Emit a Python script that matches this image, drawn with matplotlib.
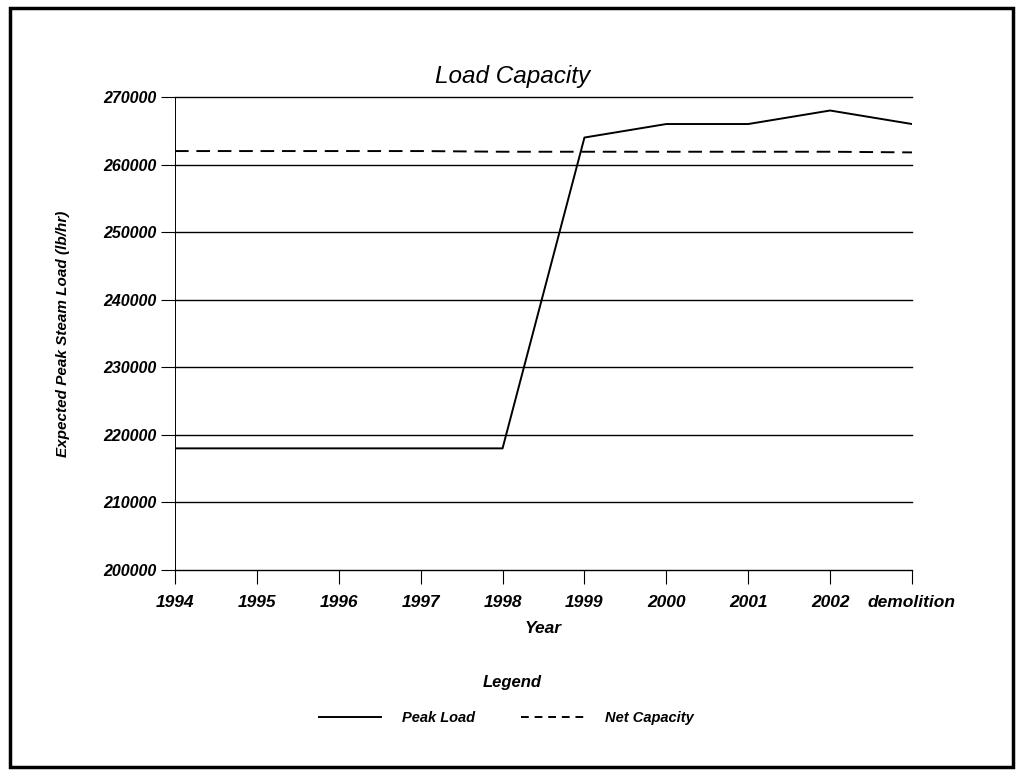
import matplotlib
matplotlib.use("Agg")
import matplotlib.pyplot as plt
from matplotlib.lines import Line2D
from matplotlib.patches import Rectangle

plt.rcParams["font.family"] = ["Liberation Sans", "DejaVu Sans"]

years = ["1994", "1995", "1996", "1997", "1998", "1999", "2000", "2001", "2002", "demolition"]
peak_load = [218000, 218000, 218000, 218000, 218000, 264000, 266000, 266000, 268000, 266000]
net_capacity = [262000, 262000, 262000, 262000, 261900, 261900, 261900, 261900, 261900, 261800]
y_ticks = [200000, 210000, 220000, 230000, 240000, 250000, 260000, 270000]

fig = plt.figure(figsize=(10.2, 7.76), dpi=100)
ax = fig.add_axes([175 / 1020, 1 - 570 / 776, (912 - 175) / 1020, (570 - 97) / 776])

x = list(range(len(years)))
ax.plot(x, peak_load, color="black", lw=1.4, label="Peak Load")
ax.plot(x, net_capacity, color="black", lw=1.4, ls=(0, (7, 4)), label="Net Capacity")

ax.set_xlim(0, len(years) - 1)
ax.set_ylim(200000, 270000)
ax.set_yticks(y_ticks)
ax.set_yticklabels([str(v) for v in y_ticks], fontsize=11.5, style="italic", weight="bold")
ax.set_xticks(x)
ax.set_xticklabels(years, fontsize=12.5, style="italic", weight="bold")
ax.tick_params(axis="y", length=10, width=0.8, pad=3)
ax.tick_params(axis="x", length=10, width=0.8, pad=8)
for v in y_ticks:
    ax.axhline(v, color="black", lw=1.0, zorder=0, clip_on=False)
for s in ["top", "right", "bottom"]:
    ax.spines[s].set_visible(False)
ax.spines["left"].set_linewidth(0.7)

ax.set_xlabel("Year", fontsize=12.5, style="italic", weight="bold", labelpad=8)
ax.set_ylabel("Expected Peak Steam Load (lb/hr)", fontsize=11, style="italic",
              weight="bold", labelpad=24)
fig.text(513 / 1020, 1 - 77 / 776, "Load Capacity", fontsize=17.5, style="italic",
         ha="center", va="center")

# legend block below the chart
fig.text(512 / 1020, 1 - 682 / 776, "Legend", fontsize=12, style="italic", weight="bold",
         ha="center", va="center")
fig.legend(handles=[Line2D([], [], color="black", lw=1.4, label="Peak Load"),
                    Line2D([], [], color="black", lw=1.4, ls=(0, (4, 3)), label="Net Capacity")],
           loc="center", bbox_to_anchor=(506 / 1020, 1 - 718 / 776), ncol=2,
           frameon=False, handlelength=4.3, handletextpad=1.4, columnspacing=3.2,
           prop={"size": 10.5, "style": "italic", "weight": "bold"})

fig.add_artist(Rectangle((10 / 1020, 1 - 767 / 776), 1003 / 1020, 759 / 776,
                         transform=fig.transFigure, fill=False, ec="black", lw=2.5))

fig.savefig("out.png", dpi=100)
